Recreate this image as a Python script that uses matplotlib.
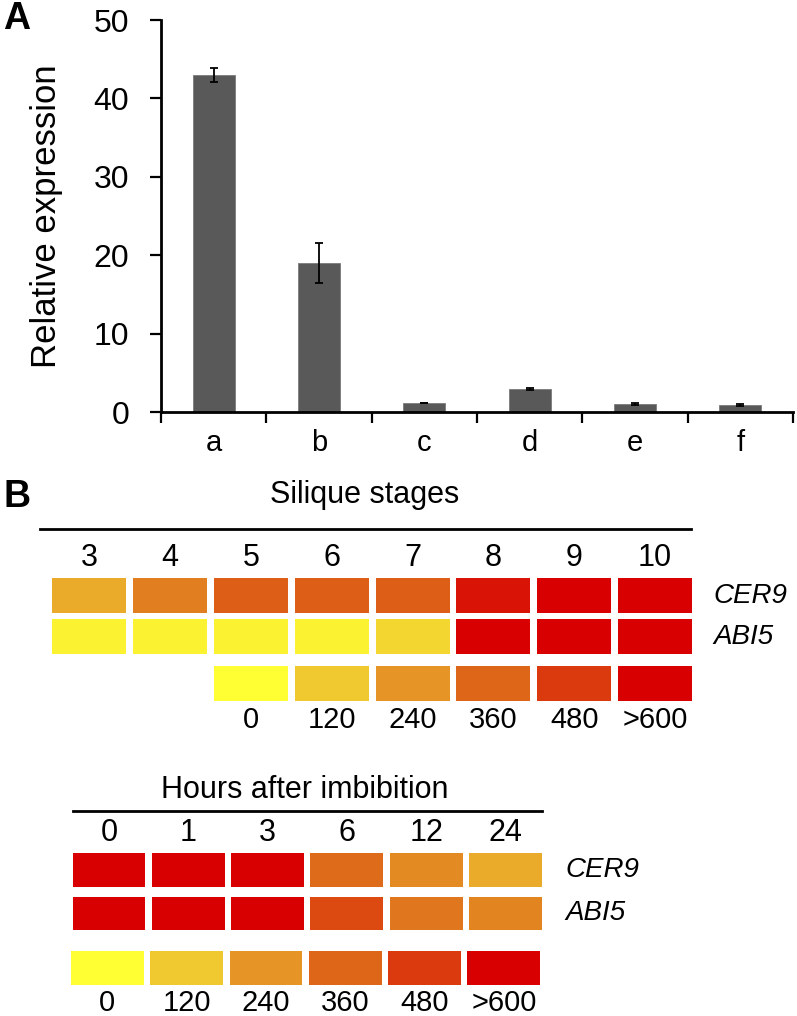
import matplotlib
matplotlib.use("Agg")
import matplotlib.pyplot as plt
from matplotlib.colors import LinearSegmentedColormap, Normalize
import numpy as np

plt.rcParams['font.family'] = ['Liberation Sans', 'DejaVu Sans']
NARROW = ['Liberation Sans Narrow', 'Liberation Sans', 'DejaVu Sans']

# panel A data
samples = ['a', 'b', 'c', 'd', 'e', 'f']
rel_expr = [43.0, 19.0, 1.1, 2.95, 1.0, 0.9]
rel_err = [0.85, 2.6, 0.0, 0.15, 0.1, 0.12]

# panel B data (heat values on the 0..>600 scale)
stages = ['3', '4', '5', '6', '7', '8', '9', '10']
silique_cer9 = [187, 295, 380, 380, 380, 560, 650, 650]
silique_abi5 = [30, 30, 30, 30, 90, 650, 650, 650]

hours = ['0', '1', '3', '6', '12', '24']
hours_cer9 = [650, 650, 650, 349, 266, 187]
hours_abi5 = [650, 650, 650, 437, 318, 280]

scale_values = [0, 120, 240, 360, 480, 600]
scale_labels = ['0', '120', '240', '360', '480', '>600']
scale_colors = ['#FFFF33', '#F0C830', '#E59425', '#DD6619', '#DB3A0E', '#D80000']

cmap = LinearSegmentedColormap.from_list(
    'heat', list(zip(np.linspace(0, 1, len(scale_colors)), scale_colors)))
norm = Normalize(vmin=0, vmax=600, clip=True)

W, H = 797, 1016
fig = plt.figure(figsize=(W / 100, H / 100), dpi=100)


def px_axes(x0, y0, x1, y1):
    return fig.add_axes([x0 / W, 1 - y1 / H, (x1 - x0) / W, (y1 - y0) / H])


# ---------------- Panel A ----------------
ax = px_axes(161, 20, 793, 412)
x = np.arange(len(samples))
ax.bar(x, rel_expr, width=0.4, color='#595959', edgecolor='#7a7a7a', linewidth=0.6)
ax.errorbar(x, rel_expr, yerr=rel_err, fmt='none', ecolor='black',
            elinewidth=1.3, capsize=3, capthick=1.3)
ax.set_xlim(-0.5, len(samples) - 0.5)
ax.set_ylim(0, 50)
ax.set_yticks([0, 10, 20, 30, 40, 50])
ax.tick_params(axis='y', direction='out', length=8, width=1.6, labelsize=23, pad=15)
ax.set_xticks(np.arange(-0.5, len(samples), 1))
ax.set_xticklabels([])
ax.tick_params(axis='x', which='major', direction='out', length=8, width=1.6)
ax.set_xticks(x, minor=True)
ax.set_xticklabels(samples, minor=True, fontsize=21)
ax.tick_params(axis='x', which='minor', length=0, pad=12)
for s in ['top', 'right']:
    ax.spines[s].set_visible(False)
for s in ['left', 'bottom']:
    ax.spines[s].set_linewidth(2.0)
ax.set_ylabel('Relative expression', fontsize=25)
ax.yaxis.set_label_coords(-0.155, 0.5)

fig.text(3 / W, 1 - 19 / H, 'A', fontsize=27, fontweight='bold', va='center', ha='left')
fig.text(3 / W, 1 - 497 / H, 'B', fontsize=27, fontweight='bold', va='center', ha='left')


def heat_block(axh, labels, rows, scale_cols, scale_y, cell_w, cell_h,
               line_x, line_y, title, title_x, title_y, lab_y, gene_x, scale_lab_y):
    ncol = len(labels)
    cols = np.arange(ncol)
    for r, vals in enumerate(rows):
        axh.bar(cols, cell_h, bottom=r - cell_h / 2, width=cell_w,
                color=cmap(norm(np.array(vals))), edgecolor='none')
    axh.bar(scale_cols, cell_h, bottom=scale_y - cell_h / 2, width=cell_w,
            color=cmap(norm(np.array(scale_values))), edgecolor='none')
    axh.set_xlim(-0.5, ncol - 0.5)
    axh.set_ylim(scale_y + 0.5, -0.5)
    axh.axis('off')
    axh.plot(line_x, [line_y, line_y], color='black', lw=2.0, clip_on=False)
    axh.text(title_x, title_y, title, ha='center', va='center', fontsize=22)
    for c, lab in zip(cols, labels):
        axh.text(c, lab_y, lab, ha='center', va='center', fontsize=22, family=NARROW)
    for c, lab in zip(scale_cols, scale_labels):
        axh.text(c, scale_lab_y, lab, ha='center', va='center', fontsize=21, family=NARROW)
    for r, g in enumerate(['CER9', 'ABI5']):
        axh.text(gene_x, r, g, ha='left', va='center', fontsize=20, style='italic')


# silique stages
ax1 = px_axes(49, 575, 695.4, 704.2)
heat_block(ax1, stages, [silique_cer9, silique_abi5],
           np.arange(2, 8), 2.15, 0.916, 0.84,
           [-0.61, 7.45], -1.62, 'Silique stages', 3.41, -2.45, -0.91, 7.72, 3.04)

# hours after imbibition
ax2 = px_axes(69.35, 848.25, 545.15, 989.6)
heat_block(ax2, hours, [hours_cer9, hours_abi5],
           np.arange(6) - 0.02, 2.25, 0.92, 0.78,
           [-0.45, 5.46], -1.36, 'Hours after imbibition', 2.47, -1.84, -0.85, 5.75, 3.06)

fig.savefig('out.png', dpi=100)
